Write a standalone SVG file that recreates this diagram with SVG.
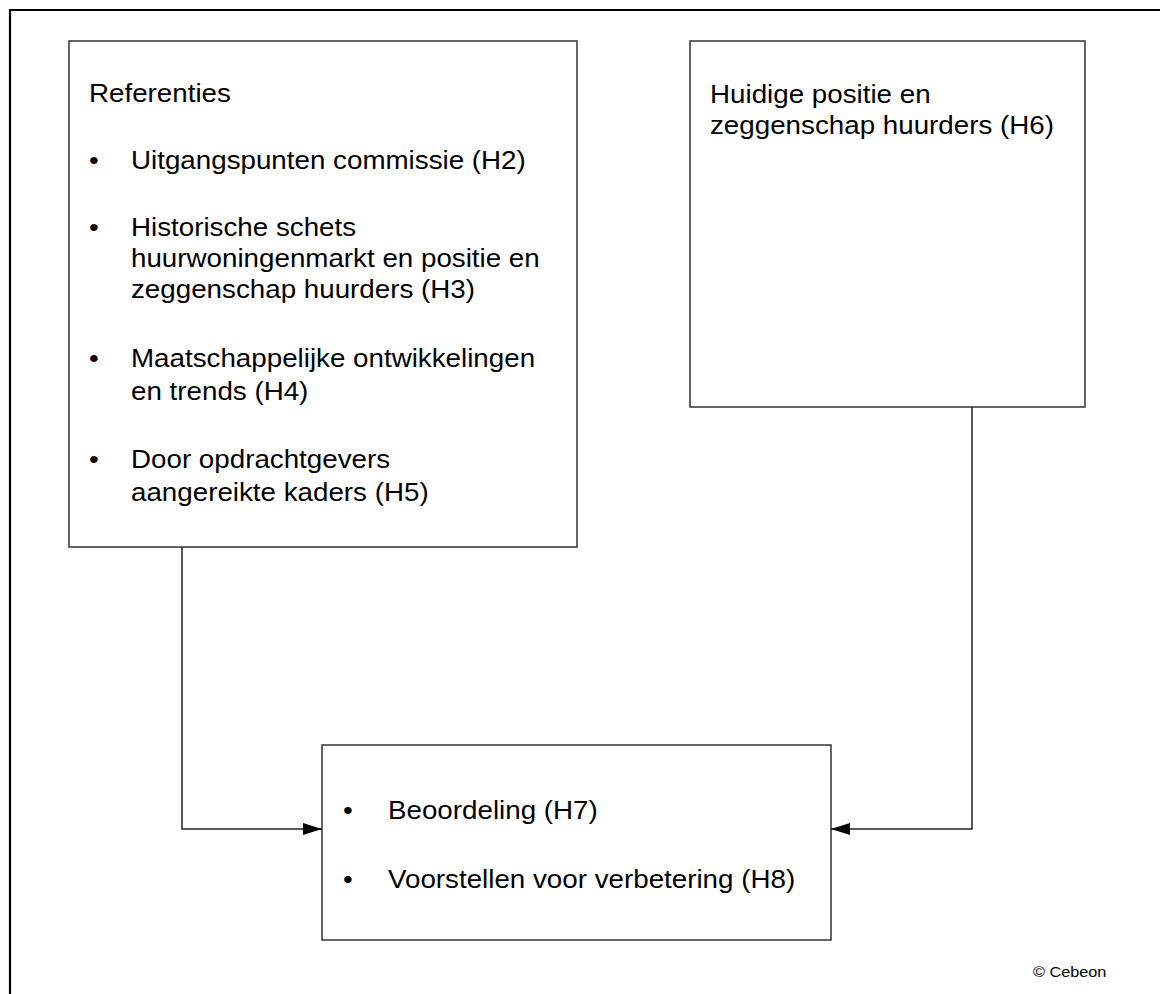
<svg xmlns="http://www.w3.org/2000/svg" width="1160" height="994" viewBox="0 0 1160 994">
<style>
  .box { fill: #ffffff; stroke: #333333; stroke-width: 1.5; }
  .frame { fill: none; stroke: #000000; stroke-width: 2.2; }
  .conn { fill: none; stroke: #222222; stroke-width: 1.5; }
  text { font-family: "Liberation Sans", Arial, sans-serif; font-size: 25px; fill: #000000; }
  .small { font-size: 14px; }
</style>
<defs>
  <marker id="arrow" viewBox="0 0 19 12" refX="19" refY="6" markerWidth="19" markerHeight="12" markerUnits="userSpaceOnUse" orient="auto">
    <path d="M0,0 L19,6 L0,12 Z" fill="#000000"/>
  </marker>
</defs>
<rect width="1160" height="994" fill="#ffffff"/>
<path class="frame" d="M1162,10 L10,10 L10,996"/>
<g id="node-referenties">
  <rect class="box" x="69" y="41" width="508" height="506"/>
  <text transform="translate(89,102) scale(1.11,1)">Referenties</text>
  <text transform="translate(89,169) scale(1.11,1)">•</text>
  <text transform="translate(131,169) scale(1.11,1)">Uitgangspunten commissie (H2)</text>
  <text transform="translate(89,236) scale(1.11,1)">•</text>
  <text transform="translate(131,236) scale(1.11,1)">Historische schets</text>
  <text transform="translate(131,267) scale(1.11,1)">huurwoningenmarkt en positie en</text>
  <text transform="translate(131,298) scale(1.11,1)">zeggenschap huurders (H3)</text>
  <text transform="translate(89,367) scale(1.11,1)">•</text>
  <text transform="translate(131,367) scale(1.11,1)">Maatschappelijke ontwikkelingen</text>
  <text transform="translate(131,400) scale(1.11,1)">en trends (H4)</text>
  <text transform="translate(89,468) scale(1.11,1)">•</text>
  <text transform="translate(131,468) scale(1.11,1)">Door opdrachtgevers</text>
  <text transform="translate(131,501) scale(1.11,1)">aangereikte kaders (H5)</text>
</g>
<g id="node-huidige">
  <rect class="box" x="690" y="41" width="395" height="366"/>
  <text transform="translate(710,103) scale(1.11,1)">Huidige positie en</text>
  <text transform="translate(710,134) scale(1.11,1)">zeggenschap huurders (H6)</text>
</g>
<g id="node-beoordeling">
  <rect class="box" x="322" y="745" width="509" height="195"/>
  <text transform="translate(343,819) scale(1.11,1)">•</text>
  <text transform="translate(388,819) scale(1.11,1)">Beoordeling (H7)</text>
  <text transform="translate(343,888) scale(1.11,1)">•</text>
  <text transform="translate(388,888) scale(1.11,1)">Voorstellen voor verbetering (H8)</text>
</g>
<g id="connectors">
  <path class="conn" d="M182,547 L182,829 L322,829" marker-end="url(#arrow)"/>
  <path class="conn" d="M972,407 L972,829 L831,829" marker-end="url(#arrow)"/>
</g>
<text class="small" transform="translate(1033,977) scale(1.16,1)">© Cebeon</text>
</svg>
